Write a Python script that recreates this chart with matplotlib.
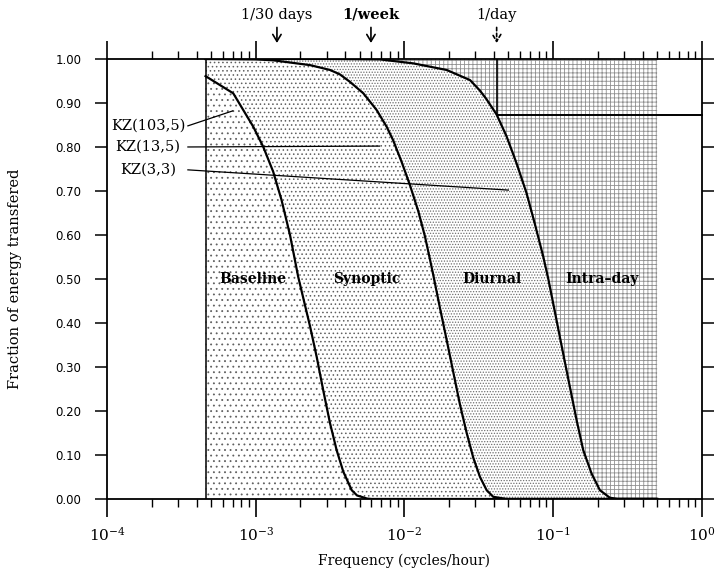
import matplotlib.pyplot as plt
import numpy as np

plt.rcParams['hatch.linewidth'] = 0.6
plt.rcParams['font.family'] = 'DejaVu Serif'
plt.rcParams['mathtext.fontset'] = 'dejavuserif'

# band limits of the series (cycles/hour)
f_lo, f_hi = 4.6e-4, 0.5
f_day = 1.0 / 24
e_day = 0.873

# energy transfer of the three KZ filters
kz103_f = [4.6e-4, 7.06e-4, 9.63e-4, 1.125e-3, 1.31e-3, 1.49e-3, 1.70e-3, 1.93e-3,
           2.32e-3, 2.57e-3, 2.84e-3, 3.16e-3, 3.50e-3, 3.88e-3, 4.42e-3, 4.8e-3,
           5.6e-3, 6.0e-3, 0.5]
kz103_e = [0.961, 0.922, 0.846, 0.800, 0.744, 0.680, 0.600, 0.505,
           0.392, 0.323, 0.248, 0.172, 0.111, 0.062, 0.020, 0.008,
           0.001, 0.0, 0.0]

kz13_f = [4.6e-4, 1.0e-3, 1.31e-3, 2.32e-3, 3.16e-3, 3.68e-3, 4.30e-3, 5.29e-3,
          6.50e-3, 7.59e-3, 8.40e-3, 9.57e-3, 1.087e-2, 1.236e-2, 1.373e-2,
          1.483e-2, 1.56e-2, 1.73e-2, 1.92e-2, 2.13e-2, 2.36e-2, 2.62e-2,
          2.90e-2, 3.22e-2, 3.57e-2, 3.95e-2, 4.86e-2, 0.5]
kz13_e = [1.0, 0.999, 0.997, 0.986, 0.975, 0.965, 0.948, 0.922,
          0.884, 0.846, 0.815, 0.766, 0.714, 0.655, 0.597,
          0.545, 0.510, 0.435, 0.362, 0.288, 0.215, 0.150,
          0.094, 0.050, 0.020, 0.005, 0.0, 0.0]

kz33_f = [4.6e-4, 3.0e-3, 6.84e-3, 1.146e-2, 1.92e-2, 2.76e-2, 3.22e-2, 3.57e-2,
          4.16e-2, 4.86e-2, 5.67e-2, 6.62e-2, 7.53e-2, 8.57e-2, 9.27e-2, 0.1052,
          0.1166, 0.1294, 0.1435, 0.1592, 0.181, 0.206, 0.24, 0.27, 0.5]
kz33_e = [1.0, 1.0, 0.999, 0.990, 0.975, 0.952, 0.928, 0.908,
          0.874, 0.824, 0.763, 0.695, 0.625, 0.551, 0.500, 0.407,
          0.331, 0.255, 0.180, 0.111, 0.058, 0.020, 0.003, 0.0, 0.0]

filters = ['KZ(103,5)', 'KZ(13,5)', 'KZ(3,3)']
label_e = [0.848, 0.80, 0.748]
pointer_f = [7.0e-4, 6.8e-3, 5.0e-2]
pointer_e = [0.882, 0.802, 0.702]

bands = ['Baseline', 'Synoptic', 'Diurnal', 'Intra\u2013day']
band_f = [9.6e-4, 5.6e-3, 3.87e-2, 0.213]

marks = ['1/30 days', '1/week', '1/day']
mark_f = [1 / 720, 1 / 168, 1 / 24]

fig = plt.figure(figsize=(7.17, 5.77), dpi=100)
ax = fig.add_axes([0.1492, 0.1352, 0.8298, 0.7626])

# stippled bands between the transfer curves
ax.fill(kz103_f + [f_lo], kz103_e + [0.0], facecolor='none', edgecolor='#606060',
        hatch='...', linewidth=0, zorder=0.5)
ax.fill(kz103_f + kz13_f[::-1], kz103_e + kz13_e[::-1], facecolor='none',
        edgecolor='#606060', hatch='....', linewidth=0, zorder=0.5)
ax.fill(kz13_f + kz33_f[::-1], kz13_e + kz33_e[::-1], facecolor='none',
        edgecolor='#707070', hatch='......', linewidth=0, zorder=0.5)
ax.fill(kz33_f + [f_hi, f_lo], kz33_e + [1.0, 1.0], facecolor='none',
        edgecolor='#909090', hatch='++++', linewidth=0, zorder=0.5)

ax.plot([f_lo, f_lo], [0, 1], color='black', lw=1.1)

for f, e in [(kz103_f, kz103_e), (kz13_f, kz13_e), (kz33_f, kz33_e)]:
    ax.plot(f, e, color='black', lw=1.6, solid_joinstyle='round')

# 1/day crossing of KZ(3,3)
ax.plot([f_day, f_day], [e_day, 1.0], color='black', lw=1.2)
ax.plot([f_day, 1.005], [e_day, e_day], color='black', lw=1.4, clip_on=False)

# filter labels with leaders
for name, e0, f1, e1 in zip(filters, label_e, pointer_f, pointer_e):
    ax.text(1.89e-4, e0, name, ha='center', va='center', fontsize=10.5)
    ax.plot([3.5e-4, f1], [e0, e1], color='black', lw=0.9)

for name, f in zip(bands, band_f):
    ax.text(f, 0.5, name, ha='center', va='center', fontsize=10, fontweight='bold')

# period markers above the frame
for i, (name, f) in enumerate(zip(marks, mark_f)):
    ax.annotate('', xy=(f, 1.030), xytext=(f, 1.078), annotation_clip=False,
                arrowprops=dict(arrowstyle='->,head_length=0.5,head_width=0.3',
                                lw=1.2, color='black',
                                linestyle=(0, (2, 1.5)) if i == 2 else '-'))
    ax.text(f, 1.10, name, ha='center', va='center', fontsize=10.5,
            fontweight='bold' if i == 1 else 'normal', clip_on=False)

ax.set_xscale('log')
ax.set_xlim(1e-4, 1.0)
ax.set_ylim(0, 1.0)
ax.set_xticks([1e-4, 1e-3, 1e-2, 1e-1, 1e0])
ax.set_xticklabels([r'$10^{-4}$', r'$10^{-3}$', r'$10^{-2}$', r'$10^{-1}$', r'$10^{0}$'],
                   fontsize=11)
ax.set_yticks(np.arange(0, 1.01, 0.1))
ax.set_yticklabels(['%.2f' % v for v in np.arange(0, 1.01, 0.1)],
                   fontfamily='DejaVu Sans', fontsize=8.5)

ax.xaxis.set_minor_locator(plt.matplotlib.ticker.LogLocator(base=10, subs=np.arange(2, 10)))
ax.xaxis.set_minor_formatter(plt.NullFormatter())
ax.tick_params(axis='x', which='major', direction='out', top=True, bottom=True,
               length=13, width=1.2, pad=6)
ax.tick_params(axis='x', which='minor', direction='out', top=True, bottom=True,
               length=5.5, width=1.0)
ax.tick_params(axis='y', which='major', direction='out', left=True, right=True,
               length=8.5, width=1.1, pad=10)
for s in ax.spines.values():
    s.set_linewidth(1.3)

ax.set_xlabel('Frequency (cycles/hour)', fontsize=10)
ax.set_ylabel('Fraction of energy transfered', fontsize=10.5)
ax.xaxis.set_label_coords(0.5, -0.125)
ax.yaxis.set_label_coords(-0.142, 0.5)

fig.savefig('out.png', dpi=100)
